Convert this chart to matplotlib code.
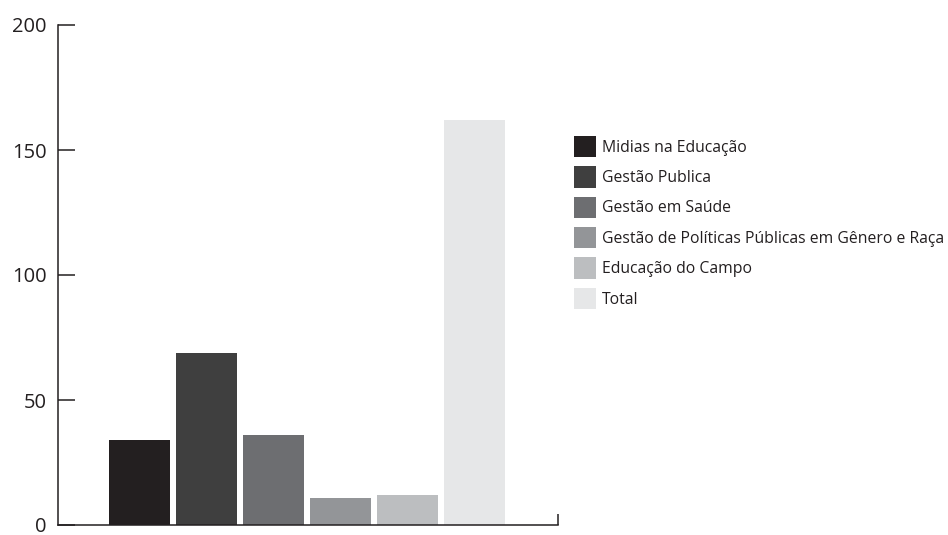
import numpy as np
import matplotlib.pyplot as plt

plt.rcParams['font.family'] = ['Open Sans', 'DejaVu Sans']

# course enrolment counts
cursos = ['Midias na Educação', 'Gestão Publica', 'Gestão em Saúde',
          'Gestão de Políticas Públicas em Gênero e Raça',
          'Educação do Campo', 'Total']
valores = [34, 69, 36, 11, 12, 162]
cores = ['#231f20', '#3f3f3f', '#6d6e71', '#939598', '#bcbec0', '#e6e7e8']

fig = plt.figure(figsize=(9.48, 5.35), dpi=100)
ax = fig.add_axes([58 / 948, 10 / 535, 500 / 948, 500 / 535])

x = np.arange(len(valores))
barras = ax.bar(x, valores, width=0.91, color=cores, label=cursos, zorder=1)

ax.set_ylim(0, 200)
ax.set_xlim(-1.22, 6.24)
ax.set_yticks([0, 50, 100, 150, 200])

for s in ['top', 'right']:
    ax.spines[s].set_visible(False)
for s in ['left', 'bottom']:
    ax.spines[s].set_color('#231f20')
    ax.spines[s].set_linewidth(1.1)
    ax.spines[s].set_zorder(3)

ax.tick_params(axis='y', direction='in', length=12, width=1.1, color='#231f20',
               labelsize=14.5, labelcolor='#231f20', pad=8)
# small closing tick at the right end of the baseline
ax.set_xticks([ax.get_xlim()[1]])
ax.set_xticklabels([''])
ax.tick_params(axis='x', direction='in', length=8, width=1.1, color='#231f20')

fig.legend(handles=list(barras), labels=cursos, loc='upper left',
           bbox_to_anchor=(574 / 948, 1 - 136 / 535), frameon=False,
           fontsize=11.3, handlelength=1.39, handleheight=1.7,
           handletextpad=0.38, labelspacing=0.585, borderpad=0,
           borderaxespad=0, labelcolor='#231f20')

fig.savefig('out.png', dpi=100)
